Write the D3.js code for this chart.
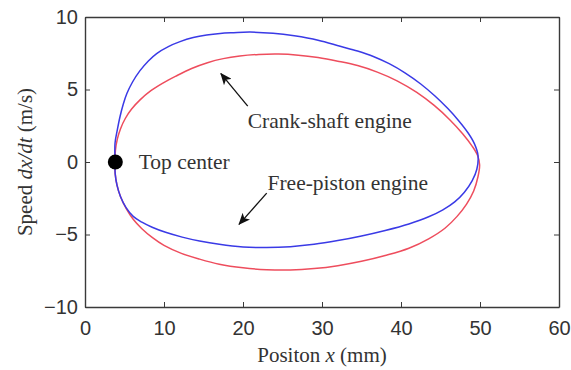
<!DOCTYPE html>
<html>
<head>
<meta charset="utf-8">
<script src="https://cdn.jsdelivr.net/npm/d3@7"></script>
<style>
  html, body { margin: 0; padding: 0; background: #fff; }
  svg { display: block; }
</style>
</head>
<body>
<svg id="chart" width="571" height="370"></svg>
<script>
// Crank-shaft engine: piston position (mm) and speed (m/s), one closed cycle
const crankX = [3.8, 3.85, 4.1, 4.5, 5.1, 5.9, 7.0, 8.3, 9.8, 11.5, 13.5, 15.5, 17.5, 19.6, 22, 24.5, 27, 29.5, 32, 34.5, 37, 39.5, 42, 44.2, 46.2, 47.8, 49, 49.7, 49.95,
                49.75, 49.2, 48.3, 47.1, 45.6, 43.5, 41, 38, 35, 32, 29, 26, 23, 20, 17, 14.5, 12.2, 10, 8.5, 7.2, 6.1, 5.2, 4.5, 4.05, 3.82];
const crankV = [0, 0.8, 1.6, 2.3, 3.0, 3.65, 4.3, 4.9, 5.42, 5.92, 6.45, 6.85, 7.13, 7.31, 7.42, 7.45, 7.37, 7.2, 6.95, 6.65, 6.2, 5.6, 4.8, 3.9, 2.9, 1.95, 1.1, 0.45, -0.2,
                -1.0, -2.0, -2.9, -3.75, -4.55, -5.3, -5.95, -6.45, -6.85, -7.15, -7.35, -7.45, -7.43, -7.3, -7.05, -6.7, -6.3, -5.75, -5.2, -4.6, -3.95, -3.2, -2.4, -1.6, -0.8];

// Free-piston engine: piston position (mm) and speed (m/s), one closed cycle
const freeX = [3.8, 3.8, 4.09, 4.43, 4.85, 5.3, 6.0, 6.96, 8.02, 9.07, 10.55, 12.03, 13.7, 15.4, 17.1, 18.8, 20.9, 23.8, 26.5, 29.5, 32.3, 34.5, 36.5, 38.5, 40.5, 42.5, 44.3, 45.9, 47.3, 48.5, 49.3, 49.75,
               49.6, 49.0, 48.0, 46.8, 45.3, 43.5, 41, 38, 35, 32, 29, 26, 23, 20, 17, 14.5, 12.3, 10.2, 8.5, 7.2, 6.1, 5.2, 4.5, 4.05, 3.82];
const freeV = [0, 1.29, 2.21, 3.12, 4.0, 4.72, 5.5, 6.3, 6.97, 7.48, 7.96, 8.3, 8.58, 8.76, 8.87, 8.92, 8.96, 8.88, 8.7, 8.4, 7.98, 7.65, 7.28, 6.78, 6.15, 5.38, 4.55, 3.7, 2.85, 2.0, 1.25, 0.45,
               -0.5, -1.3, -2.1, -2.75, -3.3, -3.78, -4.27, -4.72, -5.1, -5.42, -5.68, -5.84, -5.9, -5.86, -5.68, -5.45, -5.18, -4.85, -4.5, -4.15, -3.75, -3.15, -2.4, -1.6, -0.8];

// Top dead centre marker
const topCenter = [3.84, 0];

const xTicks = [0, 10, 20, 30, 40, 50, 60];
const yTicks = [-10, -5, 0, 5, 10];

const svg = d3.select("#chart");
const plotLeft = 85, plotRight = 559, plotTop = 17, plotBottom = 307;

const x = d3.scaleLinear().domain([0, 60]).range([plotLeft, plotRight]);
const y = d3.scaleLinear().domain([-10, 10]).range([plotBottom, plotTop]);

const axisColor = "#3a3a3a";
const textColor = "#333";
const sans = "'Liberation Sans', Arial, sans-serif";
const serif = "'Liberation Serif', 'Times New Roman', serif";

// Axes with inward ticks on all four sides
const gB = svg.append("g").attr("transform", `translate(0,${plotBottom})`)
  .call(d3.axisBottom(x).tickValues(xTicks).tickSize(-5).tickSizeOuter(0).tickPadding(14));
const gT = svg.append("g").attr("transform", `translate(0,${plotTop})`)
  .call(d3.axisTop(x).tickValues(xTicks).tickSize(-5).tickSizeOuter(0).tickFormat(""));
const gL = svg.append("g").attr("transform", `translate(${plotLeft},0)`)
  .call(d3.axisLeft(y).tickValues(yTicks).tickSize(-5).tickSizeOuter(0).tickPadding(7));
const gR = svg.append("g").attr("transform", `translate(${plotRight},0)`)
  .call(d3.axisRight(y).tickValues(yTicks).tickSize(-5).tickSizeOuter(0).tickFormat(""));

[gB, gT, gL, gR].forEach(g => {
  g.selectAll("path.domain").attr("stroke", axisColor).attr("stroke-width", 1.4);
  g.selectAll(".tick line").attr("stroke", axisColor).attr("stroke-width", 1);
  g.selectAll(".tick text")
    .attr("fill", textColor)
    .style("font-family", sans)
    .style("font-size", "20px");
});

// Curves
const line = d3.line()
  .x(d => x(d[0]))
  .y(d => y(d[1]))
  .curve(d3.curveCatmullRomClosed.alpha(0.5));

const crank = crankX.map((v, i) => [v, crankV[i]]);
const free = freeX.map((v, i) => [v, freeV[i]]);

svg.append("path").datum(crank)
  .attr("d", line).attr("fill", "none")
  .attr("stroke", "#ee4d5d").attr("stroke-width", 1.5);
svg.append("path").datum(free)
  .attr("d", line).attr("fill", "none")
  .attr("stroke", "#3a3ae6").attr("stroke-width", 1.5);

// Top centre dot
svg.append("circle")
  .attr("cx", x(topCenter[0])).attr("cy", y(topCenter[1]))
  .attr("r", 7.5).attr("fill", "#000");

// Annotation arrows
svg.append("defs").append("marker")
  .attr("id", "head")
  .attr("viewBox", "0 0 12 10")
  .attr("refX", 11).attr("refY", 5)
  .attr("markerWidth", 12).attr("markerHeight", 10)
  .attr("markerUnits", "userSpaceOnUse")
  .attr("orient", "auto")
  .append("path").attr("d", "M0,0 L12,5 L0,10 L3,5 Z").attr("fill", "#111");

function arrow(x1, y1, x2, y2) {
  svg.append("line")
    .attr("x1", x(x1)).attr("y1", y(y1))
    .attr("x2", x(x2)).attr("y2", y(y2))
    .attr("stroke", "#111").attr("stroke-width", 1.3)
    .attr("marker-end", "url(#head)");
}
arrow(20.6, 3.85, 17.2, 6.1);
arrow(23.0, -2.15, 19.5, -4.3);

// Annotation labels
const labels = [
  { t: "Top center", x: 6.8, y: -0.45 },
  { t: "Crank-shaft engine", x: 20.6, y: 2.35 },
  { t: "Free-piston engine", x: 23.1, y: -1.95 }
];
svg.selectAll("text.note").data(labels).enter().append("text")
  .attr("class", "note")
  .attr("x", d => x(d.x)).attr("y", d => y(d.y))
  .attr("fill", textColor)
  .style("font-family", serif)
  .style("font-size", "21.5px")
  .text(d => d.t);

// Axis titles
const xt = svg.append("text")
  .attr("x", (plotLeft + plotRight) / 2).attr("y", 362)
  .attr("text-anchor", "middle")
  .attr("fill", textColor)
  .style("font-family", serif).style("font-size", "21px");
xt.append("tspan").text("Positon ");
xt.append("tspan").style("font-style", "italic").text("x");
xt.append("tspan").text(" (mm)");

const yt = svg.append("text")
  .attr("transform", `translate(32,${(plotTop + plotBottom) / 2}) rotate(-90)`)
  .attr("text-anchor", "middle")
  .attr("fill", textColor)
  .style("font-family", serif).style("font-size", "21px");
yt.append("tspan").text("Speed ");
yt.append("tspan").style("font-style", "italic").text("dx/dt");
yt.append("tspan").text(" (m/s)");
</script>
</body>
</html>
